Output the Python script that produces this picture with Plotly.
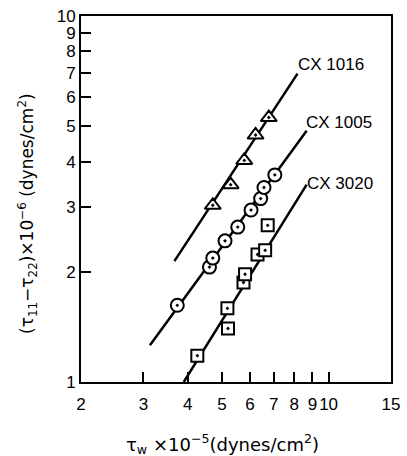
import plotly.graph_objects as go
import math

# ---- data ----
cx1016_x = [4.71, 5.29, 5.78, 6.22, 6.78]
cx1016_y = [3.04, 3.46, 4.03, 4.73, 5.28]

cx1005_x = [3.74, 4.61, 4.71, 5.10, 5.54, 6.04, 6.43, 6.57, 7.05]
cx1005_y = [1.62, 2.06, 2.18, 2.43, 2.65, 2.95, 3.17, 3.40, 3.68]

cx3020_x = [4.26, 5.20, 5.18, 5.75, 5.81, 6.30, 6.62, 6.73]
cx3020_y = [1.18, 1.40, 1.59, 1.87, 1.97, 2.23, 2.29, 2.68]

fit1016_x = [3.67, 8.17]
fit1016_y = [2.14, 6.96]
fit1005_x = [3.13, 8.67]
fit1005_y = [1.26, 4.86]
fit3020_x = [3.90, 8.67]
fit3020_y = [1.00, 3.46]

x_ticks = [2, 3, 4, 5, 6, 7, 8, 9, 10, 15]
x_ticklabels = ["2", "3", "4", "5", "6", "7", "8", "9", "10", "15"]
y_ticks = [1, 2, 3, 4, 5, 6, 7, 8, 9, 10]
y_ticklabels = ["1", "2", "3", "4", "5", "6", "7", "8", "9", "10"]

series_labels = ["CX 1016", "CX 1005", "CX 3020"]

FONT = "Liberation Sans, Arial, sans-serif"
TFONT = "DejaVu Sans, sans-serif"

fig = go.Figure()

for fx, fy in [(fit1016_x, fit1016_y), (fit1005_x, fit1005_y), (fit3020_x, fit3020_y)]:
    fig.add_trace(go.Scatter(x=fx, y=fy, mode="lines",
                             line=dict(color="black", width=2.5),
                             showlegend=False, hoverinfo="skip"))

fig.add_trace(go.Scatter(x=cx1016_x, y=cx1016_y, mode="markers", name=series_labels[0],
                         marker=dict(symbol="triangle-up-dot", size=14, color="white",
                                     line=dict(color="black", width=2)),
                         showlegend=False))
fig.add_trace(go.Scatter(x=cx1005_x, y=cx1005_y, mode="markers", name=series_labels[1],
                         marker=dict(symbol="circle-dot", size=13, color="white",
                                     line=dict(color="black", width=2)),
                         showlegend=False))
fig.add_trace(go.Scatter(x=cx3020_x, y=cx3020_y, mode="markers", name=series_labels[2],
                         marker=dict(symbol="square-dot", size=12, color="white",
                                     line=dict(color="black", width=2)),
                         showlegend=False))

W, H = 407, 456
L, R, T, B = 81, 7, 13, 74
pw, ph = W - L - R, H - T - B

def px(xp):
    return (xp - L) / pw

def py(yp):
    return (H - B - yp) / ph

label_pos = [(302, 62), (310, 120), (312, 182)]
for text, (lx, ly) in zip(series_labels, label_pos):
    fig.add_annotation(x=px(lx), y=py(ly), xref="paper", yref="paper", text=text,
                       showarrow=False, xanchor="left", yanchor="middle",
                       font=dict(family=FONT, size=17, color="black"))

fig.add_annotation(x=px(26), y=py(212), xref="paper", yref="paper",
                   text="(τ<sub>11</sub>−τ<sub>22</sub>)×10<sup>−6</sup> (dynes/cm<sup>2</sup>)",
                   textangle=-90, showarrow=False, xanchor="center", yanchor="middle",
                   font=dict(family=TFONT, size=17, color="black"))
fig.add_annotation(x=px(227), y=py(445), xref="paper", yref="paper",
                   text="τ<sub>w</sub> ×10<sup>−5</sup>(dynes/cm<sup>2</sup>)",
                   showarrow=False, xanchor="center", yanchor="middle",
                   font=dict(family=TFONT, size=18, color="black"))

axis_common = dict(showgrid=False, zeroline=False, showline=True, linecolor="black",
                   linewidth=2, mirror=True, ticks="inside", ticklen=10, tickwidth=1.5,
                   tickcolor="black", ticklabeloverflow="allow",
                   tickfont=dict(family=FONT, size=17, color="black"))

fig.update_xaxes(type="log", range=[math.log10(2), math.log10(15)],
                 tickvals=x_ticks, ticktext=x_ticklabels, ticklabelstandoff=6, **axis_common)
fig.update_yaxes(type="log", range=[0, 1],
                 tickvals=y_ticks, ticktext=y_ticklabels, **axis_common)

fig.update_layout(width=W, height=H, margin=dict(l=L, r=R, t=T, b=B),
                  paper_bgcolor="white", plot_bgcolor="white",
                  font=dict(family=FONT, color="black"))

fig.write_html("out.html", config={"displayModeBar": False},
               post_script="document.body.style.margin='0';document.body.style.overflow='hidden';")
